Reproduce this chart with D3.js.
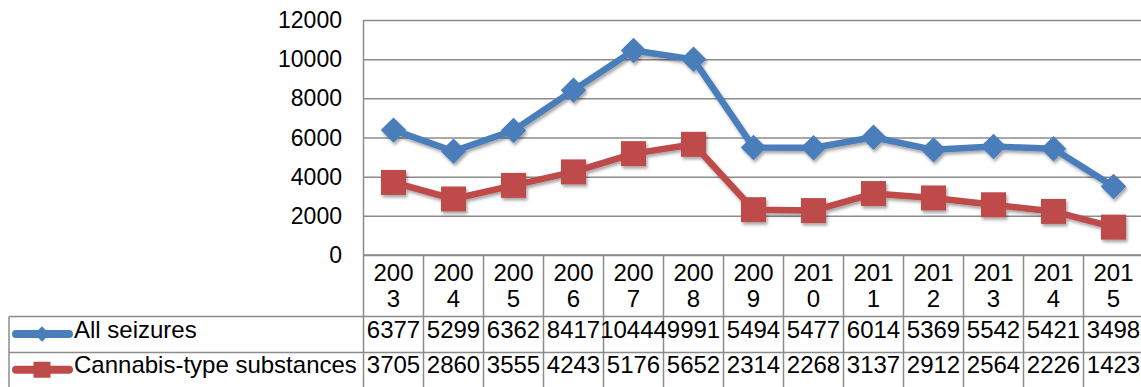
<!DOCTYPE html>
<html><head><meta charset="utf-8">
<script src="https://cdn.jsdelivr.net/npm/d3@7"></script>
<style>
html,body{margin:0;padding:0;background:#fff;}
svg{display:block;font-family:"Liberation Sans",Arial,sans-serif;}
</style></head>
<body>
<svg id="chart" width="1141" height="387"></svg>
<script>
const years = ["2003","2004","2005","2006","2007","2008","2009","2010","2011","2012","2013","2014","2015"];
const allSeizures = [6377,5299,6362,8417,10444,9991,5494,5477,6014,5369,5542,5421,3498];
const cannabis = [3705,2860,3555,4243,5176,5652,2314,2268,3137,2912,2564,2226,1423];
const seriesNames = ["All seizures","Cannabis-type substances"];
const yTicks = [0,2000,4000,6000,8000,10000,12000];

const svg = d3.select("#chart");
const W = 1141;
const plotLeft = 363.5, plotRight = 1143.5, plotTop = 20, plotBottom = 255;
const gridColor = "#8c8c8c";

const x = d3.scaleBand().domain(years).range([plotLeft, plotRight]).padding(0);
const y = d3.scaleLinear().domain([0,12000]).range([plotBottom, plotTop]);

const defs = svg.append("defs");
const f = defs.append("filter").attr("id","sh").attr("x","-20%").attr("y","-20%").attr("width","140%").attr("height","160%");
f.append("feDropShadow").attr("dx",1.5).attr("dy",2.5).attr("stdDeviation",1.8).attr("flood-color","#000").attr("flood-opacity",0.35);

// gridlines
const grid = svg.append("g").attr("transform",`translate(${plotLeft},0)`)
  .call(d3.axisLeft(y).tickValues(yTicks).tickSize(-(W - plotLeft)).tickFormat(""));
grid.select(".domain").remove();
grid.selectAll(".tick line").attr("stroke",gridColor).attr("stroke-width",1.5);

// y labels
svg.append("g").selectAll("text").data(yTicks).join("text")
  .attr("x",342).attr("y",d=>y(d)).attr("dy","0.35em")
  .attr("text-anchor","end").attr("font-size",23).attr("fill","#000")
  .text(d=>d);

// vertical axis
svg.append("line").attr("x1",plotLeft).attr("x2",plotLeft).attr("y1",plotTop).attr("y2",387)
  .attr("stroke",gridColor).attr("stroke-width",1.5);

// data table
const tbl = svg.append("g").attr("stroke",gridColor).attr("stroke-width",1.5);
const rowY = [plotBottom, 316.5, 352.5, 388];
tbl.append("line").attr("x1",plotLeft).attr("x2",W).attr("y1",plotBottom).attr("y2",plotBottom);
tbl.append("line").attr("x1",9).attr("x2",W).attr("y1",rowY[1]).attr("y2",rowY[1]);
tbl.append("line").attr("x1",9).attr("x2",W).attr("y1",rowY[2]).attr("y2",rowY[2]);
tbl.append("line").attr("x1",9).attr("x2",9).attr("y1",rowY[1]).attr("y2",388);
tbl.selectAll(".vl").data(years).join("line").attr("class","vl")
  .attr("x1",d=>x(d)+x.bandwidth()).attr("x2",d=>x(d)+x.bandwidth())
  .attr("y1",plotBottom).attr("y2",388);

// header labels (wrapped years)
const hdr = svg.append("g").attr("font-size",24).attr("text-anchor","middle").attr("fill","#000");
hdr.selectAll("text.a").data(years).join("text").attr("class","a")
  .attr("x",d=>x(d)+x.bandwidth()/2).attr("y",280.5).text(d=>d.slice(0,3));
hdr.selectAll("text.b").data(years).join("text").attr("class","b")
  .attr("x",d=>x(d)+x.bandwidth()/2).attr("y",307).text(d=>d.slice(3));

const colors = [{line:"#4A7EBB", mark:"#4A7EBB"},{line:"#BE4B48", mark:"#BE4B48"}];
const data = [allSeizures, cannabis];
const rowBase = [337.5, 373];

data.forEach((vals,si)=>{
  svg.append("g").attr("font-size",24).attr("text-anchor","middle").attr("fill","#000")
    .selectAll("text").data(vals).join("text")
    .attr("x",(d,i)=>x(years[i])+x.bandwidth()/2).attr("y",rowBase[si]).text(d=>d);
  svg.append("text").attr("x",74).attr("y",rowBase[si]).attr("font-size",24).attr("fill","#000").text(seriesNames[si]);
  const cy = (rowY[si+1]+rowY[si+2])/2 - 0.5;
  svg.append("line").attr("x1",16).attr("x2",69).attr("y1",cy).attr("y2",cy)
    .attr("stroke",colors[si].line).attr("stroke-width",8).attr("stroke-linecap","round");
  const key = svg.append("g").attr("transform",`translate(42,${cy})`);
  if(si===0) key.append("rect").attr("x",-5.5).attr("y",-5.5).attr("width",11).attr("height",11).attr("transform","rotate(45)").attr("fill",colors[si].mark);
  else key.append("rect").attr("x",-8.5).attr("y",-8).attr("width",17).attr("height",16).attr("fill",colors[si].mark);
});

// lines and markers
const plot = svg.append("g").attr("filter","url(#sh)");
data.forEach((vals,si)=>{
  const g = plot.append("g");
  const line = d3.line().x((d,i)=>x(years[i])+x.bandwidth()/2).y(d=>y(d));
  g.append("path").datum(vals).attr("d",line).attr("fill","none")
    .attr("stroke",colors[si].line).attr("stroke-width",6.5).attr("stroke-linejoin","round");
  const m = g.selectAll("g.m").data(vals).join("g").attr("class","m")
    .attr("transform",(d,i)=>`translate(${x(years[i])+x.bandwidth()/2},${y(d)})`);
  if(si===0){
    m.append("rect").attr("x",-9).attr("y",-9).attr("width",18).attr("height",18)
      .attr("transform","rotate(45)").attr("fill",colors[si].mark);
  } else {
    m.append("rect").attr("x",-12.5).attr("y",-12.5).attr("width",25).attr("height",25)
      .attr("fill",colors[si].mark);
  }
});
</script>
</body></html>
